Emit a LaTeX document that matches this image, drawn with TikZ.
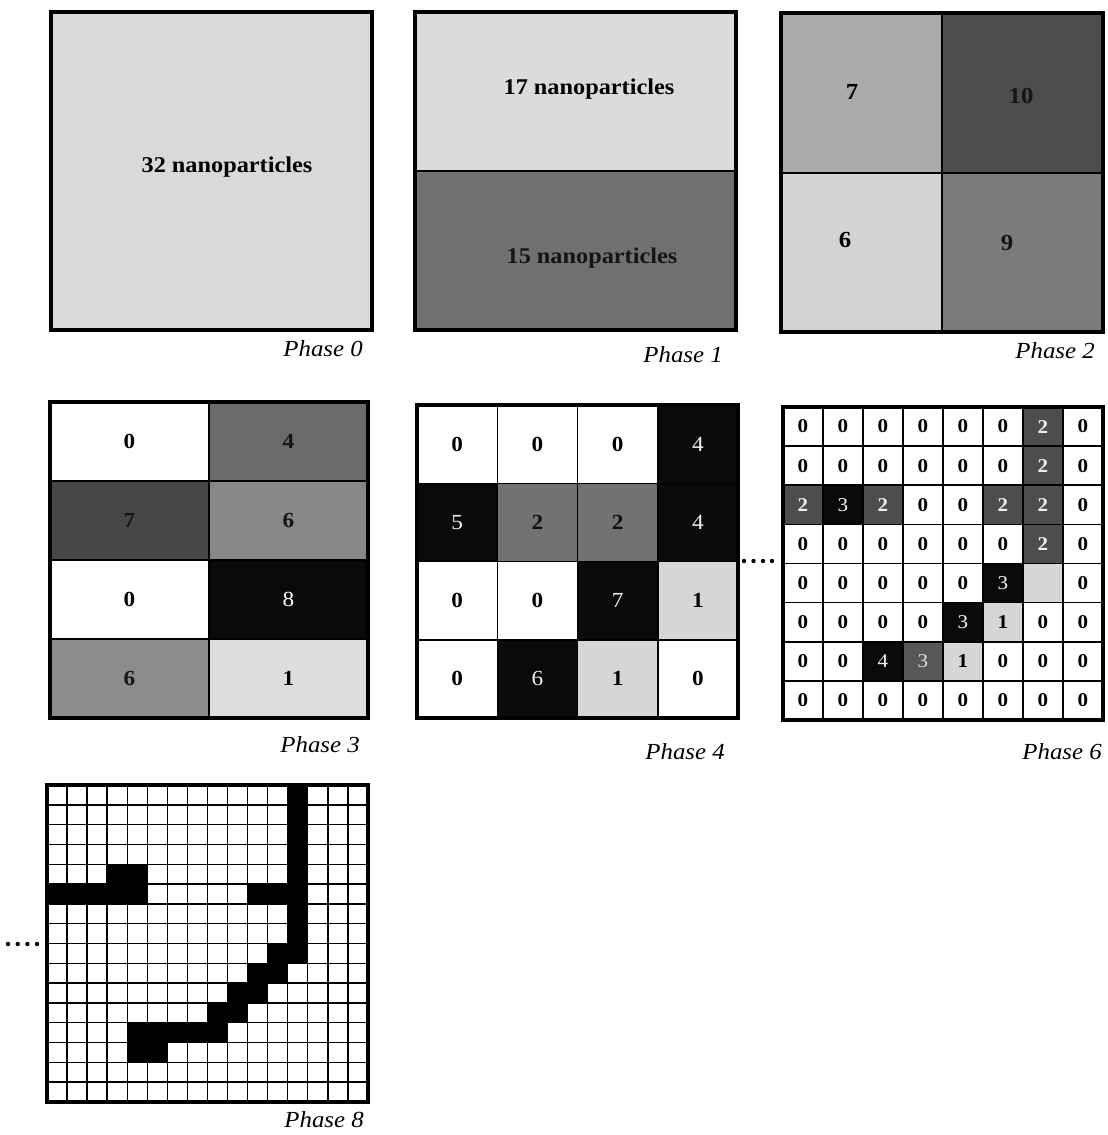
\documentclass[tikz,border=0pt]{standalone}
\usepackage{fontspec}
\setmainfont{Liberation Serif}[FakeStretch=1.08]
\definecolor{pzero}{HTML}{D9D9D9}
\definecolor{ponea}{HTML}{DBDBDB}
\definecolor{poneb}{HTML}{707070}
\definecolor{ptwoa}{HTML}{ABABAB}
\definecolor{ptwob}{HTML}{4D4D4D}
\definecolor{ptwoc}{HTML}{D3D3D3}
\definecolor{ptwod}{HTML}{7B7B7B}
\definecolor{pthra}{HTML}{6B6B6B}
\definecolor{pthrb}{HTML}{474747}
\definecolor{pthrc}{HTML}{888888}
\definecolor{pthrd}{HTML}{0A0A0A}
\definecolor{pthre}{HTML}{8C8C8C}
\definecolor{pthrf}{HTML}{DDDDDD}
\definecolor{darktxt}{HTML}{151515}
% cell codes: w white, k black, d dark gray, m mid-dark gray, g medium gray, l light gray
\definecolor{fw}{HTML}{FFFFFF}\definecolor{tw}{HTML}{000000}
\definecolor{fk}{HTML}{0A0A0A}\definecolor{tk}{HTML}{F2F2F2}
\definecolor{fd}{HTML}{4D4D4D}\definecolor{td}{HTML}{F0F0F0}
\definecolor{fm}{HTML}{575757}\definecolor{tm}{HTML}{DDDDDD}
\definecolor{fg}{HTML}{727272}\definecolor{tg}{HTML}{101010}
\definecolor{fl}{HTML}{D6D6D6}\definecolor{tl}{HTML}{000000}
\def\pfsw{\bfseries}\def\pfsk{\mdseries}\def\pfsd{\bfseries}
\def\pfsm{\mdseries}\def\pfsg{\bfseries}\def\pfsl{\bfseries}
\begin{document}
\begin{tikzpicture}[x=1pt,y=-1pt,
  box/.style={draw=black, line width=1.5pt, inner sep=0pt, outer sep=0pt, anchor=north west},
  frame/.style={draw=black, line width=4pt, inner sep=0pt, outer sep=0pt, anchor=north west},
  bigtxt/.style={font=\fontsize{22.5}{22.5}\selectfont\bfseries, inner sep=0pt, anchor=base},
  numtxt/.style={font=\fontsize{23}{23}\selectfont\bfseries, inner sep=0pt, anchor=base},
  phlabel/.style={font=\fontsize{23}{23}\selectfont\itshape, inner sep=0pt, anchor=base east},
  cthree/.style={box, minimum width=159pt, minimum height=79pt, font=\fontsize{21.5}{21.5}\selectfont\bfseries},
  cfour/.style={box, minimum width=80.25pt, minimum height=78.25pt},
  csix/.style={box, line width=1.6pt, minimum width=40pt, minimum height=39.125pt},
  ceight/.style={box, line width=1.4pt, minimum width=20.06pt, minimum height=19.8pt},
  dotmark/.style={fill=black}
]
\useasboundingbox (0,0) rectangle (1108,1135);

% ---------- Phase 0 ----------
\node[frame, fill=pzero, minimum width=321pt, minimum height=318pt] (p0) at (51,12) {};
\node[bigtxt] (p0t) at (227,172) {32 nanoparticles};
\node[phlabel] (p0l) at (363,356) {Phase 0};

% ---------- Phase 1 ----------
\node[box, fill=ponea, minimum width=321pt, minimum height=159pt] (p1a) at (415,12) {};
\node[box, fill=poneb, minimum width=321pt, minimum height=159pt] (p1b) at (415,171) {};
\node[frame, minimum width=321pt, minimum height=318pt] (p1f) at (415,12) {};
\node[bigtxt] (p1at) at (589,94) {17 nanoparticles};
\node[bigtxt, text=darktxt] (p1bt) at (592,263) {15 nanoparticles};
\node[phlabel] (p1l) at (723,362) {Phase 1};

% ---------- Phase 2 ----------
\node[box, fill=ptwoa, minimum width=161pt, minimum height=160pt] (p2a) at (781,13) {};
\node[box, fill=ptwob, minimum width=161pt, minimum height=160pt] (p2b) at (942,13) {};
\node[box, fill=ptwoc, minimum width=161pt, minimum height=159pt] (p2c) at (781,173) {};
\node[box, fill=ptwod, minimum width=161pt, minimum height=159pt] (p2d) at (942,173) {};
\node[frame, minimum width=322pt, minimum height=319pt] (p2f) at (781,13) {};
\node[numtxt] (p2at) at (852,99) {7};
\node[numtxt, text=darktxt] (p2bt) at (1021,103) {10};
\node[numtxt] (p2ct) at (845,247) {6};
\node[numtxt, text=darktxt] (p2dt) at (1007,250) {9};
\node[phlabel] (p2l) at (1095,358) {Phase 2};

% ---------- Phase 3 ----------
\node[cthree, fill=white] (p3-0-0) at (50,402) {0};
\node[cthree, fill=pthra, text=darktxt] (p3-0-1) at (209,402) {4};
\node[cthree, fill=pthrb, text=darktxt] (p3-1-0) at (50,481) {7};
\node[cthree, fill=pthrc, text=darktxt] (p3-1-1) at (209,481) {6};
\node[cthree, fill=white] (p3-2-0) at (50,560) {0};
\node[cthree, fill=pthrd, text=white, font=\fontsize{21.5}{21.5}\selectfont\mdseries] (p3-2-1) at (209,560) {8};
\node[cthree, fill=pthre, text=darktxt] (p3-3-0) at (50,639) {6};
\node[cthree, fill=pthrf] (p3-3-1) at (209,639) {1};
\node[frame, minimum width=318pt, minimum height=316pt] (p3f) at (50,402) {};
\node[phlabel] (p3l) at (360,752) {Phase 3};

% ---------- Phase 4 ----------
\foreach \ri/\row in {0/{w/0,w/0,w/0,k/4},1/{k/5,g/2,g/2,k/4},2/{w/0,w/0,k/7,l/1},3/{w/0,k/6,l/1,w/0}}{
  \foreach \ff/\tt [count=\ci from 0] in \row {
    \node[cfour, fill=f\ff, text=t\ff, font=\fontsize{21.5}{21.5}\selectfont\csname pfs\ff\endcsname]
      (p4-\ri-\ci) at ({417+\ci*80.25},{405+\ri*78.25}) {\tt};
  }
}
\fill[fk] (p4-0-3.south west) ++(1,-2) rectangle ([xshift=-1pt,yshift=2pt]p4-1-3.north east);
\node[frame, minimum width=321pt, minimum height=313pt] (p4f) at (417,405) {};
\node[phlabel] (p4l) at (725,759) {Phase 4};

% ---------- dots ----------
\foreach \xx in {744,753.5,763,772} \fill[dotmark] (\xx,561) circle (2.2pt);
\foreach \xx in {8,17.7,27.4,37} \fill[dotmark] (\xx,944) circle (2.2pt);

% ---------- Phase 6 ----------
\foreach \ri/\row in {
  0/{w/0,w/0,w/0,w/0,w/0,w/0,d/2,w/0},
  1/{w/0,w/0,w/0,w/0,w/0,w/0,d/2,w/0},
  2/{d/2,k/3,d/2,w/0,w/0,d/2,d/2,w/0},
  3/{w/0,w/0,w/0,w/0,w/0,w/0,d/2,w/0},
  4/{w/0,w/0,w/0,w/0,w/0,k/3,l/{},w/0},
  5/{w/0,w/0,w/0,w/0,k/3,l/1,w/0,w/0},
  6/{w/0,w/0,k/4,m/3,l/1,w/0,w/0,w/0},
  7/{w/0,w/0,w/0,w/0,w/0,w/0,w/0,w/0}}{
  \foreach \ff/\tt [count=\ci from 0] in \row {
    \node[csix, fill=f\ff, text=t\ff, font=\fontsize{19.5}{19.5}\selectfont\csname pfs\ff\endcsname]
      (p6-\ri-\ci) at ({783+\ci*40},{407+\ri*39.125}) {\tt};
  }
}
\node[frame, minimum width=320pt, minimum height=313pt] (p6f) at (783,407) {};
\node[phlabel] (p6l) at (1102,759) {Phase 6};

% ---------- Phase 8 ----------
\foreach \ri in {0,...,15}{
  \foreach \ci in {0,...,15}{
    \node[ceight, fill=white] (p8-\ri-\ci) at ({47+\ci*20.06},{785+\ri*19.8}) {};
  }
}
\foreach \ri/\ci in {0/12,1/12,2/12,3/12,4/12,5/12,6/12,7/12,8/12,
  4/3,4/4,5/0,5/1,5/2,5/3,5/4,5/10,5/11,8/11,9/10,9/11,10/9,10/10,
  11/8,11/9,12/4,12/5,12/6,12/7,12/8,13/4,13/5}
  \fill[black] (p8-\ri-\ci.north west) rectangle (p8-\ri-\ci.south east);
\node[frame, minimum width=321pt, minimum height=317pt] (p8f) at (47,785) {};
\node[phlabel] (p8l) at (364,1127) {Phase 8};
\end{tikzpicture}
\end{document}
